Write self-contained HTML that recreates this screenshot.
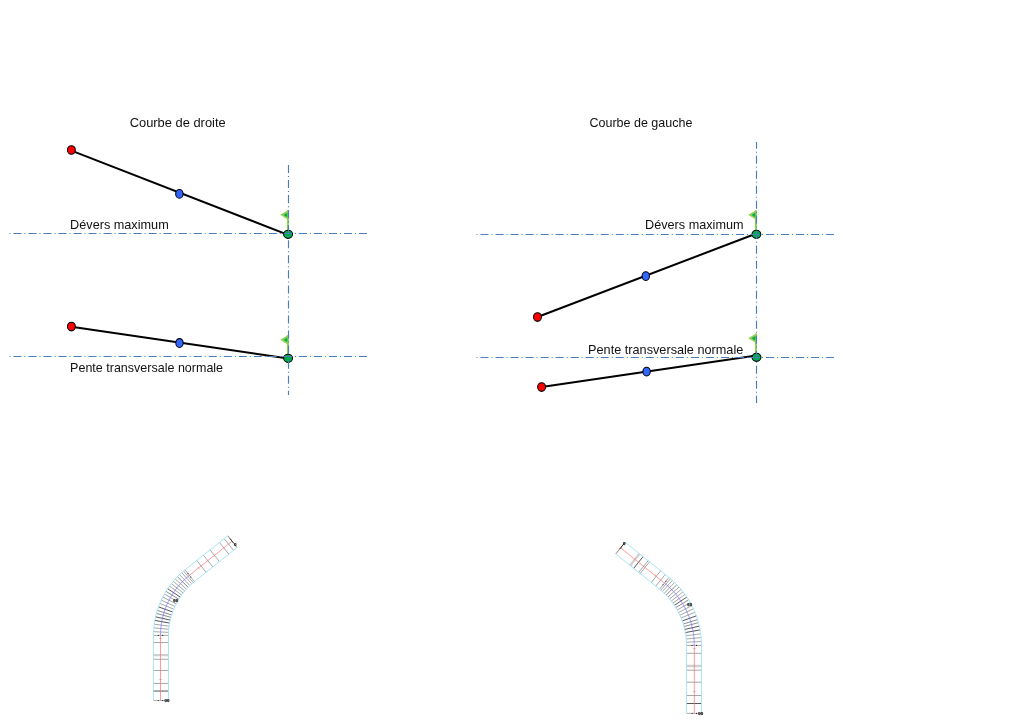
<!DOCTYPE html>
<html lang="fr"><head><meta charset="utf-8"><title>Courbe de droite / Courbe de gauche</title>
<style>
html,body{margin:0;padding:0;background:#fff;}
body{width:1024px;height:720px;overflow:hidden;}
svg{display:block;}
text{font-family:"Liberation Sans",sans-serif;fill:#111;}
.lbl{font-size:12.2px;}
.dd{stroke:#4a7ebb;stroke-width:1.15;stroke-dasharray:8.015 3 1 3.01;fill:none;}
.bl{stroke:#000;stroke-width:2;stroke-linecap:round;}
.dot{stroke:#000;stroke-width:1.05;}
</style></head><body>
<svg width="1024" height="720" viewBox="0 0 1024 720">
<rect width="1024" height="720" fill="#fff"/>

<text class="lbl" x="129.70" y="126.7" textLength="96.0" lengthAdjust="spacingAndGlyphs">Courbe de droite</text>
<line class="bl" x1="71.40" y1="150.60" x2="288.10" y2="234.90"/>
<line class="bl" x1="71.40" y1="326.70" x2="288.10" y2="358.40"/>
<g><rect x="286.95" y="210.20" width="2.0" height="21.10" fill="#92d050"/><path d="M288.30 210.20 L280.20 214.80 L287.70 219.50 Z" fill="#92d050"/><path d="M287.30 212.70 L283.50 215.00 L287.30 217.20 Z" fill="#00b050"/></g>
<ellipse class="dot" cx="288.10" cy="234.30" rx="4.45" ry="4.10" fill="#00ab4f"/>
<ellipse class="dot" cx="71.40" cy="150.00" rx="3.95" ry="4.35" fill="#ff0000"/>
<ellipse class="dot" cx="179.40" cy="193.90" rx="3.72" ry="4.40" fill="#3366ff"/>
<g><rect x="286.95" y="335.10" width="2.0" height="20.20" fill="#92d050"/><path d="M288.30 335.10 L280.20 339.70 L287.70 344.40 Z" fill="#92d050"/><path d="M287.30 337.60 L283.50 339.90 L287.30 342.10 Z" fill="#00b050"/></g>
<ellipse class="dot" cx="288.10" cy="358.30" rx="4.45" ry="4.10" fill="#00ab4f"/>
<ellipse class="dot" cx="71.40" cy="326.50" rx="3.95" ry="4.35" fill="#ff0000"/>
<ellipse class="dot" cx="179.50" cy="343.00" rx="3.72" ry="4.40" fill="#3366ff"/>
<line class="dd" x1="9.40" y1="233.50" x2="367.00" y2="233.50" stroke-dashoffset="11.00"/>
<line class="dd" x1="9.40" y1="356.50" x2="367.00" y2="356.50" stroke-dashoffset="11.00"/>
<line class="dd" style="stroke-dasharray:8.03 3.01 1 3.01" x1="288.50" y1="165.00" x2="288.50" y2="395.00" stroke-dashoffset="0.00"/>
<text class="lbl" x="70.10" y="228.75" textLength="98.6" lengthAdjust="spacingAndGlyphs">Dévers maximum</text>
<text class="lbl" x="70.10" y="371.80" textLength="153.0" lengthAdjust="spacingAndGlyphs">Pente transversale normale</text>
<text class="lbl" x="589.50" y="126.7" textLength="102.9" lengthAdjust="spacingAndGlyphs">Courbe de gauche</text>
<line class="bl" x1="537.50" y1="317.00" x2="756.40" y2="233.50"/>
<line class="bl" x1="541.60" y1="387.00" x2="756.50" y2="355.60"/>
<g><rect x="754.95" y="210.20" width="2.0" height="21.10" fill="#92d050"/><path d="M756.30 210.20 L748.20 214.80 L755.70 219.50 Z" fill="#92d050"/><path d="M755.30 212.70 L751.50 215.00 L755.30 217.20 Z" fill="#00b050"/></g>
<ellipse class="dot" cx="756.40" cy="234.30" rx="4.45" ry="4.10" fill="#00ab4f"/>
<ellipse class="dot" cx="537.50" cy="317.00" rx="3.95" ry="4.35" fill="#ff0000"/>
<ellipse class="dot" cx="645.80" cy="276.10" rx="3.72" ry="4.40" fill="#3366ff"/>
<g><rect x="754.95" y="333.55" width="2.0" height="20.70" fill="#92d050"/><path d="M756.30 333.55 L748.20 338.15 L755.70 342.85 Z" fill="#92d050"/><path d="M755.30 336.05 L751.50 338.35 L755.30 340.55 Z" fill="#00b050"/></g>
<ellipse class="dot" cx="756.50" cy="357.25" rx="4.45" ry="4.10" fill="#00ab4f"/>
<ellipse class="dot" cx="541.60" cy="387.00" rx="3.95" ry="4.35" fill="#ff0000"/>
<ellipse class="dot" cx="646.60" cy="371.60" rx="3.72" ry="4.40" fill="#3366ff"/>
<line class="dd" x1="476.50" y1="234.50" x2="834.00" y2="234.50" stroke-dashoffset="11.00"/>
<line class="dd" x1="476.50" y1="357.50" x2="834.00" y2="357.50" stroke-dashoffset="11.00"/>
<line class="dd" style="stroke-dasharray:8 3 1 3" x1="756.50" y1="142.10" x2="756.50" y2="403.00" stroke-dashoffset="1.30"/>
<text class="lbl" x="645.10" y="228.75" textLength="98.4" lengthAdjust="spacingAndGlyphs">Dévers maximum</text>
<text class="lbl" x="588.10" y="353.90" textLength="155.2" lengthAdjust="spacingAndGlyphs">Pente transversale normale</text>
<path d="M156.43 613.41 L170.91 617.34 M157.29 610.47 L171.61 614.93 M165.99 591.36 L178.75 599.24 M177.38 576.78 L188.11 587.26" fill="none" stroke="#5a5a5a" stroke-width="0.7"/>
<path d="M153.50 683.45 L168.50 683.45 M153.50 670.45 L168.50 670.45 M153.50 659.25 L168.50 659.25 M153.50 642.55 L168.50 642.55 M196.78 560.47 L206.14 572.20 M203.42 555.17 L212.78 566.89 M210.07 549.87 L219.42 561.59 M219.44 542.38 L228.80 554.10 M224.13 538.64 L233.49 550.36 M153.50 635.40 L168.50 635.40 M153.58 631.69 L168.57 632.36 M153.84 627.88 L168.78 629.23 M154.25 624.20 L169.12 626.20 M159.84 603.40 L173.71 609.12 M161.29 600.10 L174.89 606.41 M162.82 596.97 L176.15 603.84 M164.38 594.09 L177.43 601.47 M169.51 586.11 L181.64 594.92 M171.35 583.67 L183.15 592.92 M173.27 581.30 L184.74 590.97 M175.28 579.00 L186.39 589.09 M179.55 574.63 L189.89 585.50 M181.72 572.64 L191.67 583.86 M183.54 571.07 L193.17 582.57 M185.06 569.83 L194.41 581.55" fill="none" stroke="#707070" stroke-width="0.62"/>
<path d="M159.00 679.55 L162.00 679.55 M159.00 638.35 L162.00 638.35 M197.63 566.83 L199.50 569.17" fill="none" stroke="#999" stroke-width="0.5"/>
<path d="M153.50 655.15 L168.50 655.15" fill="none" stroke="#d0d0d0" stroke-width="2.3"/>
<path d="M153.50 691.05 L168.50 691.05 M154.85 620.43 L169.61 623.10 M155.59 616.79 L170.22 620.12 M158.50 606.86 L172.61 611.96 M167.70 588.70 L180.16 597.05" fill="none" stroke="#444" stroke-width="0.9"/>
<path d="M153.50 700.55 L168.50 700.55" fill="none" stroke="#777" stroke-width="0.6"/>
<path d="M227.73 535.77 L237.09 547.49" fill="none" stroke="#555" stroke-width="0.7"/>
<path d="M229.91 538.50 L233.34 542.80" fill="none" stroke="#333" stroke-width="1"/>
<path d="M153.50 700.55 L153.50 635.40 L153.56 632.26 L153.73 629.13 L154.03 626.01 L154.44 622.90 L154.96 619.81 L155.60 616.74 L156.36 613.70 L157.22 610.68 L158.20 607.70 L159.29 604.76 L160.49 601.87 L161.80 599.02 L163.21 596.22 L164.73 593.47 L166.35 590.78 L168.06 588.16 L169.88 585.60 L171.78 583.11 L173.78 580.70 L175.87 578.36 L178.05 576.10 L180.31 573.92 L182.64 571.83 L185.06 569.83 L227.73 535.77 M168.50 700.55 L168.50 635.40 L168.55 632.83 L168.69 630.25 L168.93 627.69 L169.27 625.14 L169.70 622.60 L170.23 620.08 L170.85 617.58 L171.56 615.10 L172.36 612.66 L173.26 610.24 L174.24 607.86 L175.32 605.52 L176.48 603.22 L177.72 600.97 L179.05 598.76 L180.46 596.61 L181.95 594.51 L183.52 592.46 L185.16 590.48 L186.87 588.56 L188.66 586.70 L190.51 584.91 L192.43 583.20 L194.41 581.55 L237.09 547.49" fill="none" stroke="#9ae1f7" stroke-width="0.85"/>
<path d="M160.50 700.55 L160.50 635.40 M189.42 575.30 L232.09 541.24" fill="none" stroke="#ff7070" stroke-width="0.7"/>
<path d="M160.50 635.40 L160.55 632.53 L160.71 629.66 L160.98 626.79 L161.36 623.94 L161.84 621.11 L162.43 618.30 L163.12 615.51 L163.91 612.75 L164.81 610.02 L165.81 607.32 L166.91 604.66 L168.11 602.05 L169.40 599.49 L170.79 596.97 L172.27 594.51 L173.85 592.10 L175.51 589.76 L177.26 587.48 L179.09 585.26 L181.01 583.12 L183.00 581.05 L185.07 579.05 L187.21 577.14 L189.42 575.30" fill="none" stroke="#7070ff" stroke-width="0.65"/>
<circle cx="158.30" cy="700.55" r="0.55" fill="#222"/><circle cx="162.70" cy="700.55" r="0.55" fill="#222"/>
<circle cx="158.30" cy="635.40" r="0.55" fill="#222"/><circle cx="162.70" cy="635.40" r="0.55" fill="#222"/>
<circle cx="188.05" cy="573.58" r="0.55" fill="#222"/><circle cx="190.80" cy="577.02" r="0.55" fill="#222"/>
<text x="167.00" y="701.75" font-size="4.4" font-weight="bold" fill="#333" stroke="#333" stroke-width="0.25" text-anchor="middle" transform="rotate(0.0 167.00 700.55)">00</text>
<text x="175.80" y="602.11" font-size="4.4" font-weight="bold" fill="#333" stroke="#333" stroke-width="0.25" text-anchor="middle" transform="rotate(0.0 175.80 600.91)">60</text>
<text x="235.19" y="546.37" font-size="4.4" font-weight="bold" fill="#333" stroke="#333" stroke-width="0.25" text-anchor="middle" transform="rotate(0.0 235.19 545.17)">0</text>
<path d="M683.99 626.55 L698.47 622.63 M683.27 624.03 L697.59 619.59 M675.84 607.64 L688.62 599.79 M666.10 595.11 L676.87 584.66" fill="none" stroke="#5a5a5a" stroke-width="0.7"/>
<path d="M686.50 695.50 L701.50 695.50 M686.50 682.20 L701.50 682.20 M686.50 670.20 L701.50 670.20 M686.50 653.30 L701.50 653.30 M655.80 586.12 L665.20 574.43 M651.28 582.49 L660.68 570.80 M640.14 573.53 L649.53 561.84 M638.73 572.40 L648.13 560.71 M686.50 645.40 L701.50 645.40 M686.43 642.22 L701.42 641.56 M686.21 638.96 L701.15 637.62 M685.86 635.80 L700.73 633.80 M681.08 617.96 L694.96 612.26 M679.85 615.13 L693.47 608.85 M678.54 612.44 L691.89 605.60 M677.21 609.97 L690.28 602.61 M672.83 603.13 L684.99 594.34 M671.26 601.03 L683.09 591.81 M669.61 599.00 L681.10 589.35 M667.89 597.02 L679.03 586.97 M664.25 593.26 L674.62 582.43 M662.39 591.55 L672.39 580.36 M660.84 590.20 L670.51 578.73 M659.54 589.13 L668.94 577.44" fill="none" stroke="#707070" stroke-width="0.62"/>
<path d="M692.80 691.60 L695.80 691.60 M692.80 648.60 L695.80 648.60 M653.98 576.58 L655.86 574.24" fill="none" stroke="#999" stroke-width="0.5"/>
<path d="M686.50 666.00 L701.50 666.00 M630.08 565.45 L639.48 553.76" fill="none" stroke="#d0d0d0" stroke-width="2.3"/>
<path d="M686.50 703.50 L701.50 703.50 M633.67 568.33 L643.07 556.64 M685.35 632.56 L700.11 629.90 M684.72 629.45 L699.35 626.14 M682.23 620.93 L696.34 615.84 M674.38 605.35 L686.86 597.03" fill="none" stroke="#444" stroke-width="0.9"/>
<path d="M686.50 713.40 L701.50 713.40" fill="none" stroke="#777" stroke-width="0.6"/>
<path d="M615.74 553.92 L625.14 542.23" fill="none" stroke="#555" stroke-width="0.7"/>
<path d="M619.69 549.01 L624.70 542.77" fill="none" stroke="#333" stroke-width="1"/>
<path d="M686.50 713.40 L686.50 645.40 L686.45 642.71 L686.30 640.03 L686.05 637.35 L685.70 634.69 L685.25 632.04 L684.71 629.40 L684.06 626.79 L683.32 624.21 L682.48 621.66 L681.55 619.13 L680.53 616.65 L679.41 614.20 L678.21 611.80 L676.91 609.45 L675.53 607.14 L674.06 604.89 L672.51 602.69 L670.88 600.55 L669.17 598.48 L667.39 596.47 L665.53 594.53 L663.60 592.65 L661.60 590.85 L659.54 589.13 L615.74 553.92 M701.50 713.40 L701.50 645.40 L701.44 642.15 L701.26 638.91 L700.96 635.68 L700.53 632.46 L699.99 629.26 L699.33 626.08 L698.55 622.93 L697.66 619.81 L696.65 616.72 L695.53 613.68 L694.29 610.68 L692.94 607.72 L691.48 604.82 L689.92 601.98 L688.25 599.19 L686.48 596.47 L684.61 593.82 L682.64 591.24 L680.57 588.73 L678.42 586.30 L676.17 583.96 L673.84 581.70 L671.43 579.52 L668.94 577.44 L625.14 542.23" fill="none" stroke="#9ae1f7" stroke-width="0.85"/>
<path d="M694.30 713.40 L694.30 645.40 M664.43 583.05 L620.63 547.84" fill="none" stroke="#ff7070" stroke-width="0.7"/>
<path d="M694.30 645.40 L694.24 642.42 L694.08 639.45 L693.80 636.48 L693.41 633.53 L692.92 630.59 L692.31 627.68 L691.60 624.78 L690.78 621.92 L689.85 619.09 L688.82 616.30 L687.68 613.54 L686.45 610.83 L685.11 608.17 L683.67 605.56 L682.14 603.01 L680.52 600.51 L678.80 598.08 L677.00 595.71 L675.10 593.41 L673.12 591.18 L671.07 589.03 L668.93 586.96 L666.71 584.96 L664.43 583.05" fill="none" stroke="#7070ff" stroke-width="0.65"/>
<circle cx="692.10" cy="713.40" r="0.55" fill="#222"/><circle cx="696.50" cy="713.40" r="0.55" fill="#222"/>
<circle cx="692.10" cy="645.40" r="0.55" fill="#222"/><circle cx="696.50" cy="645.40" r="0.55" fill="#222"/>
<circle cx="663.05" cy="584.77" r="0.55" fill="#222"/><circle cx="665.81" cy="581.34" r="0.55" fill="#222"/>
<text x="700.80" y="714.60" font-size="4.4" font-weight="bold" fill="#333" stroke="#333" stroke-width="0.25" text-anchor="middle" transform="rotate(0.0 700.80 713.40)">00</text>
<text x="689.75" y="605.75" font-size="4.4" font-weight="bold" fill="#333" stroke="#333" stroke-width="0.25" text-anchor="middle" transform="rotate(0.0 689.75 604.55)">60</text>
<text x="624.30" y="544.93" font-size="4.4" font-weight="bold" fill="#333" stroke="#333" stroke-width="0.25" text-anchor="middle" transform="rotate(0.0 624.30 543.73)">0</text>
</svg></body></html>
